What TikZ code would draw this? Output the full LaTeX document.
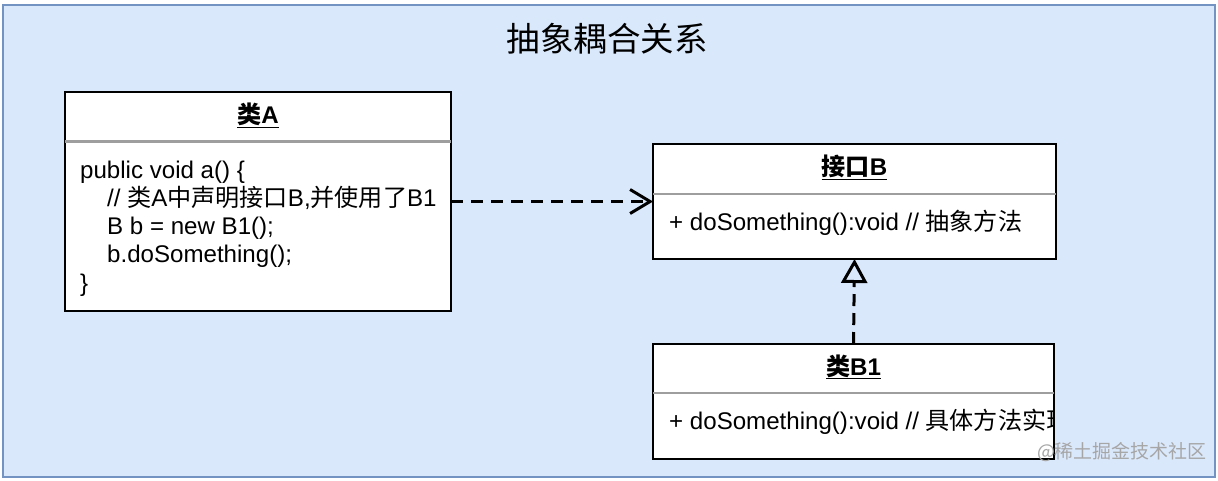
\documentclass[tikz,border=0pt]{standalone}
\usepackage{fontspec}
\setmainfont{Liberation Sans}
\newfontfamily\cjk{Noto Sans CJK SC}
\usetikzlibrary{arrows.meta}
\definecolor{frameFill}{HTML}{DAE8FC}
\definecolor{frameLine}{HTML}{7393C3}
\definecolor{sepGray}{HTML}{9E9E9E}
\newcommand\bodyfs{\fontsize{24.1}{28}\selectfont}
\begin{document}
\begin{tikzpicture}[x=1pt,y=-1pt,
  umlbox/.style={draw=black, fill=white, line width=2pt, inner sep=0pt, outer sep=0pt},
  septhin/.style={draw=sepGray, line width=2.5pt},
  body/.style={anchor=base west, inner sep=0pt, font=\bodyfs},
  hdr/.style={anchor=base, inner sep=0pt, font=\bodyfs\bfseries},
  dep/.style={line width=3pt, dash pattern=on 12pt off 8pt, -{Straight Barb[length=20pt,width=24pt]}},
  real/.style={line width=3pt, dash pattern=on 12pt off 7pt, -{Triangle[open,length=24pt,width=26pt]}}
]
\useasboundingbox (0,0) rectangle (1218,480);
% outer frame
\node[draw=frameLine, fill=frameFill, line width=2.5pt, inner sep=0pt, minimum width=1212pt, minimum height=472pt] (frame) at (609,241) {};
\node[anchor=base, inner sep=0pt, font=\cjk\fontsize{33.5}{37}\selectfont] (title) at (607,51.5) {抽象耦合关系};

% class A
\node[umlbox, minimum width=386pt, minimum height=219pt] (a) at (258,201.5) {};
\coordinate (asepL) at (65,141.5);
\coordinate (asepR) at (451,141.5);
\draw[septhin] (asepL) -- (asepR);
\node[hdr] (ah) at (258,123.3) {\underline{{\cjk 类}A}};
\node[body] (a1) at (80,178.5) {public void a() \{};
\node[body] (a2) at (107,206.5) {// {\cjk 类}A{\cjk 中声明接口}B,{\cjk 并使用了}B1};
\node[body] (a3) at (107,234.5) {B b = new B1();};
\node[body] (a4) at (107,262.5) {b.doSomething();};
\node[body] (a5) at (80,291) {\}};

% interface B
\node[umlbox, minimum width=403pt, minimum height=115pt] (b) at (854.5,201.5) {};
\coordinate (bsepL) at (653,194);
\coordinate (bsepR) at (1056,194);
\draw[septhin] (bsepL) -- (bsepR);
\node[hdr] (bh) at (854.5,175.3) {\underline{{\cjk 接口}B}};
\node[body] (b1) at (669,230.7) {+ doSomething():void // {\cjk 抽象方法}};

% class B1
\node[umlbox, minimum width=401pt, minimum height=115pt] (c) at (853.5,401.5) {};
\coordinate (csepL) at (653,393);
\coordinate (csepR) at (1054,393);
\draw[septhin] (csepL) -- (csepR);
\node[hdr] (ch) at (853.5,375) {\underline{{\cjk 类}B1}};
\begin{scope}
  \clip (654,394) rectangle (1053,458);
  \node[body] (c1) at (669,429.7) {+ doSomething():void // {\cjk 具体方法实现}};
\end{scope}

% connectors
\draw[dep] (a.east) -- (b.west);
\draw[real] (c.north) -- (b.south);

% watermark
\node[inner sep=0pt, font=\cjk\fontsize{19}{21}\selectfont, text=black!35] (wm) at (1122,452) {@稀土掘金技术社区};
\end{tikzpicture}
\end{document}
